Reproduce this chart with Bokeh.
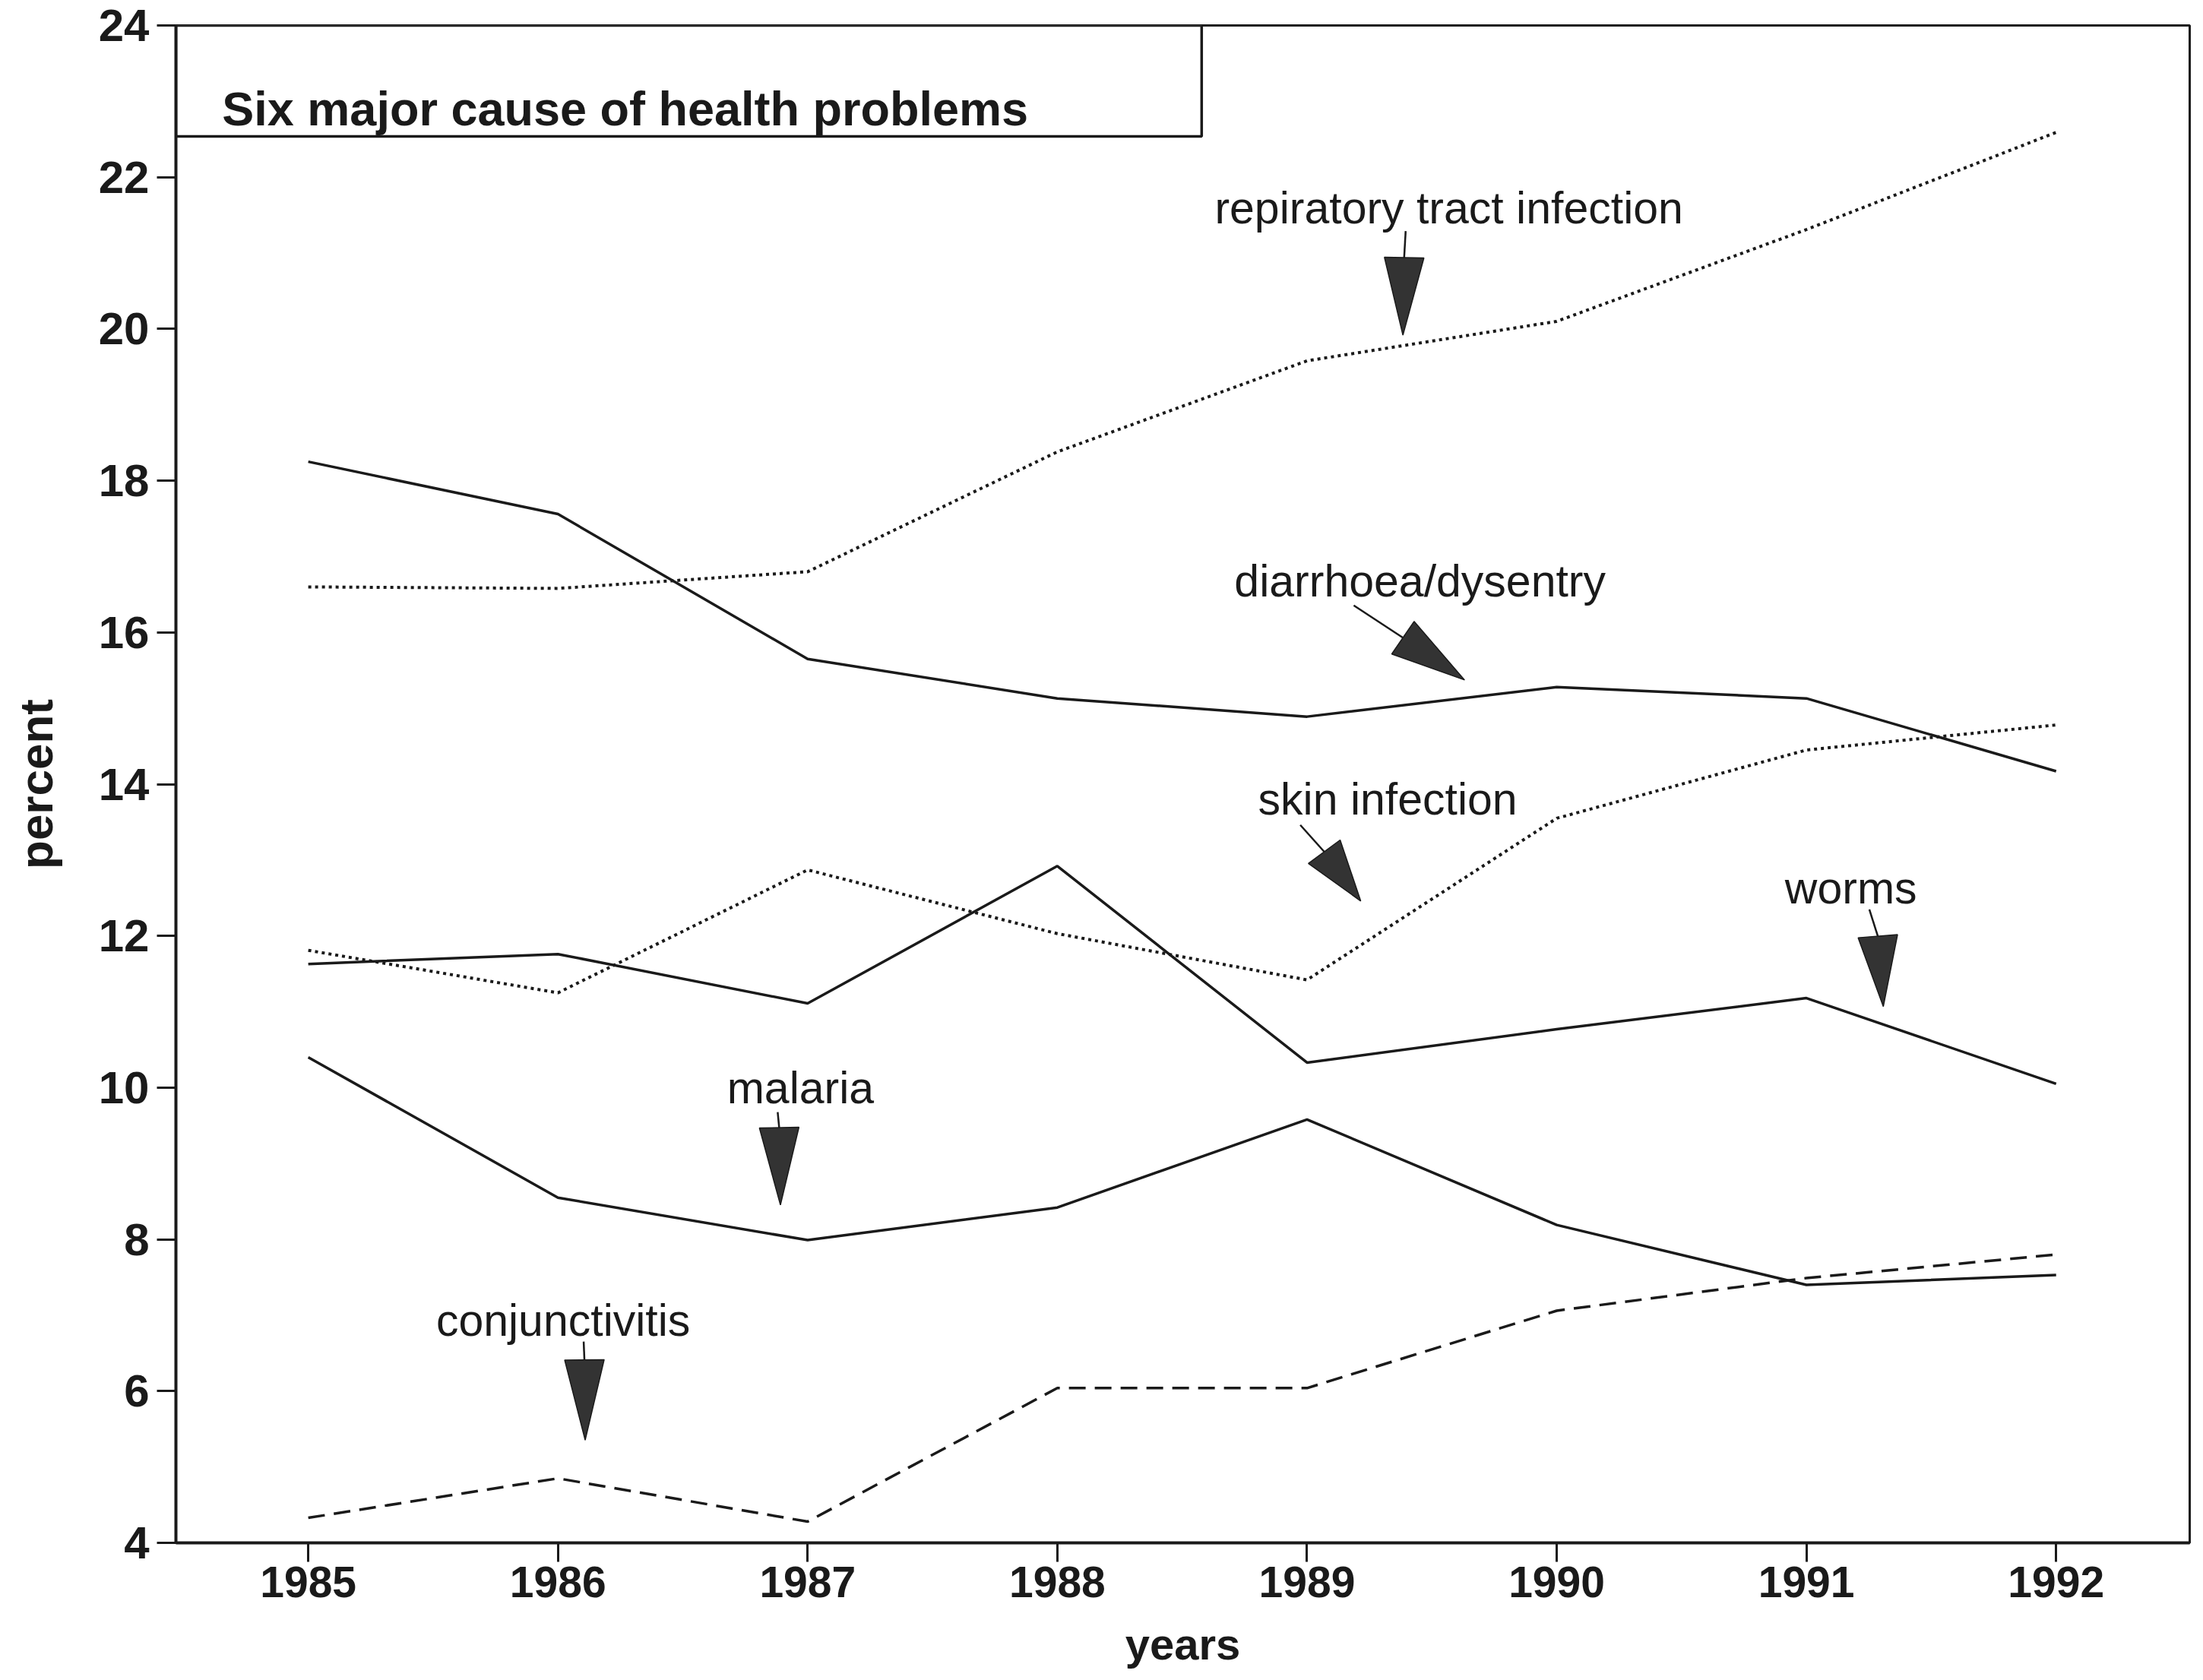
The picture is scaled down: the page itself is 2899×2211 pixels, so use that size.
from bokeh.plotting import figure
from bokeh.models import Range1d, FixedTicker, Label
from bokeh.embed import file_html
from bokeh.resources import INLINE

# ---------------- data ----------------
years = [1985, 1986, 1987, 1988, 1989, 1990, 1991, 1992]
respiratory = [16.6, 16.58, 16.8, 18.38, 19.58, 20.1, 21.31, 22.59]
diarrhoea = [18.25, 17.56, 15.65, 15.13, 14.89, 15.28, 15.13, 14.17]
skin = [11.81, 11.25, 12.87, 12.03, 11.42, 13.55, 14.45, 14.78]
worms = [11.63, 11.76, 11.11, 12.92, 10.33, 10.77, 11.18, 10.05]
malaria = [10.4, 8.55, 7.99, 8.42, 9.58, 8.19, 7.4, 7.53]
conjunctivitis = [4.33, 4.85, 4.28, 6.04, 6.04, 7.06, 7.49, 7.8]
y_ticks = [4, 6, 8, 10, 12, 14, 16, 18, 20, 22, 24]

title_text = "Six major cause of health problems"
x_label = "years"
y_label = "percent"

# annotation: text, text anchor (x, y), leader start, arrow base, arrow tip (data units)
annotations = [
    ("repiratory tract infection", (1988.630, 21.588), (1989.395, 21.29), (1989.389, 20.94), (1989.384, 19.918)),
    ("diarrhoea/dysentry", (1988.709, 16.672), (1989.187, 16.356), (1989.384, 15.930), (1989.631, 15.373)),
    ("skin infection", (1988.804, 13.796), (1988.973, 13.462), (1989.069, 13.109), (1989.215, 12.460)),
    ("worms", (1990.914, 12.627), (1991.252, 12.349), (1991.286, 11.996), (1991.308, 11.069)),
    ("malaria", (1986.677, 9.993), (1986.880, 9.677), (1986.886, 9.473), (1986.891, 8.453)),
    ("conjunctivitis", (1985.512, 6.931), (1986.103, 6.653), (1986.106, 6.412), (1986.109, 5.354)),
]

# ---------------- layout ----------------
X0, X1 = 1984.47, 1992.535
Y0, Y1 = 4, 24
W, H = 2891, 2205
BL, BT, BB = 231, 33, 175
FW = 2650
FH = H - BT - BB
BR = W - BL - FW
SX = FW / (X1 - X0)
SY = FH / (Y1 - Y0)

INK = "#1a1a1a"
FONT = "Liberation Sans"

p = figure(width=W, height=H, x_range=Range1d(X0, X1), y_range=Range1d(Y0, Y1),
           output_backend="svg", toolbar_location=None,
           min_border_left=BL, min_border_right=BR, min_border_top=BT, min_border_bottom=BB)
p.background_fill_color = "white"
p.border_fill_color = "white"
p.outline_line_color = INK
p.outline_line_width = 3
p.xgrid.visible = False
p.ygrid.visible = False

p.xaxis.ticker = FixedTicker(ticks=years)
p.yaxis.ticker = FixedTicker(ticks=y_ticks)
for ax in (p.xaxis[0], p.yaxis[0]):
    ax.axis_line_color = INK
    ax.axis_line_width = 4
    ax.major_tick_line_color = INK
    ax.major_tick_line_width = 3
    ax.major_tick_in = 0
    ax.major_tick_out = 25
    ax.minor_tick_line_color = None
    ax.major_label_text_font = FONT
    ax.major_label_text_font_style = "bold"
    ax.major_label_text_color = INK
    ax.axis_label_text_font = FONT
    ax.axis_label_text_font_style = "bold"
    ax.axis_label_text_color = INK

p.xaxis.major_label_text_font_size = "57px"
p.xaxis.major_label_standoff = 6
p.xaxis.axis_label = x_label
p.xaxis.axis_label_text_font_size = "58px"
p.xaxis.axis_label_standoff = 26

p.yaxis.major_label_text_font_size = "60px"
p.yaxis.major_label_standoff = 10
p.yaxis.axis_label = y_label
p.yaxis.axis_label_text_font_size = "62px"
p.yaxis.axis_label_standoff = 45

# ---------------- series ----------------
p.line(years, respiratory, line_color=INK, line_width=4, line_dash="4 5")
p.line(years, diarrhoea, line_color=INK, line_width=3.5)
p.line(years, skin, line_color=INK, line_width=4, line_dash="4 5")
p.line(years, worms, line_color=INK, line_width=3.5)
p.line(years, malaria, line_color=INK, line_width=3.5)
p.line(years, conjunctivitis, line_color=INK, line_width=3.5, line_dash="22 12")

# ---------------- title box ----------------
p.quad(left=[X0], right=[1988.578], top=[Y1], bottom=[22.538],
       fill_color="white", line_color=INK, line_width=3.5)
p.add_layout(Label(x=1984.655, y=22.908, text=title_text, text_font=FONT,
                   text_font_size="63px", text_font_style="bold", text_color=INK,
                   text_baseline="alphabetic"))

# ---------------- annotations ----------------
HW = 26  # half width of arrow heads in px
tri_xs, tri_ys = [], []
for txt, (tx, ty), (lx0, ly0), (bx, by), (px_, py_) in annotations:
    p.add_layout(Label(x=tx, y=ty, text=txt, text_font=FONT, text_font_size="59px",
                       text_color=INK, text_baseline="middle"))
    p.line([lx0, bx], [ly0, by], line_color=INK, line_width=2.5)
    dx = (px_ - bx) * SX
    dy = (py_ - by) * SY
    ln = (dx * dx + dy * dy) ** 0.5
    ux, uy = -dy / ln, dx / ln
    tri_xs.append([bx + HW * ux / SX, px_, bx - HW * ux / SX])
    tri_ys.append([by + HW * uy / SY, py_, by - HW * uy / SY])
p.patches(tri_xs, tri_ys, fill_color="#333333", line_color=INK, line_width=1.5)

open("out.html", "w").write(file_html(p, INLINE))
